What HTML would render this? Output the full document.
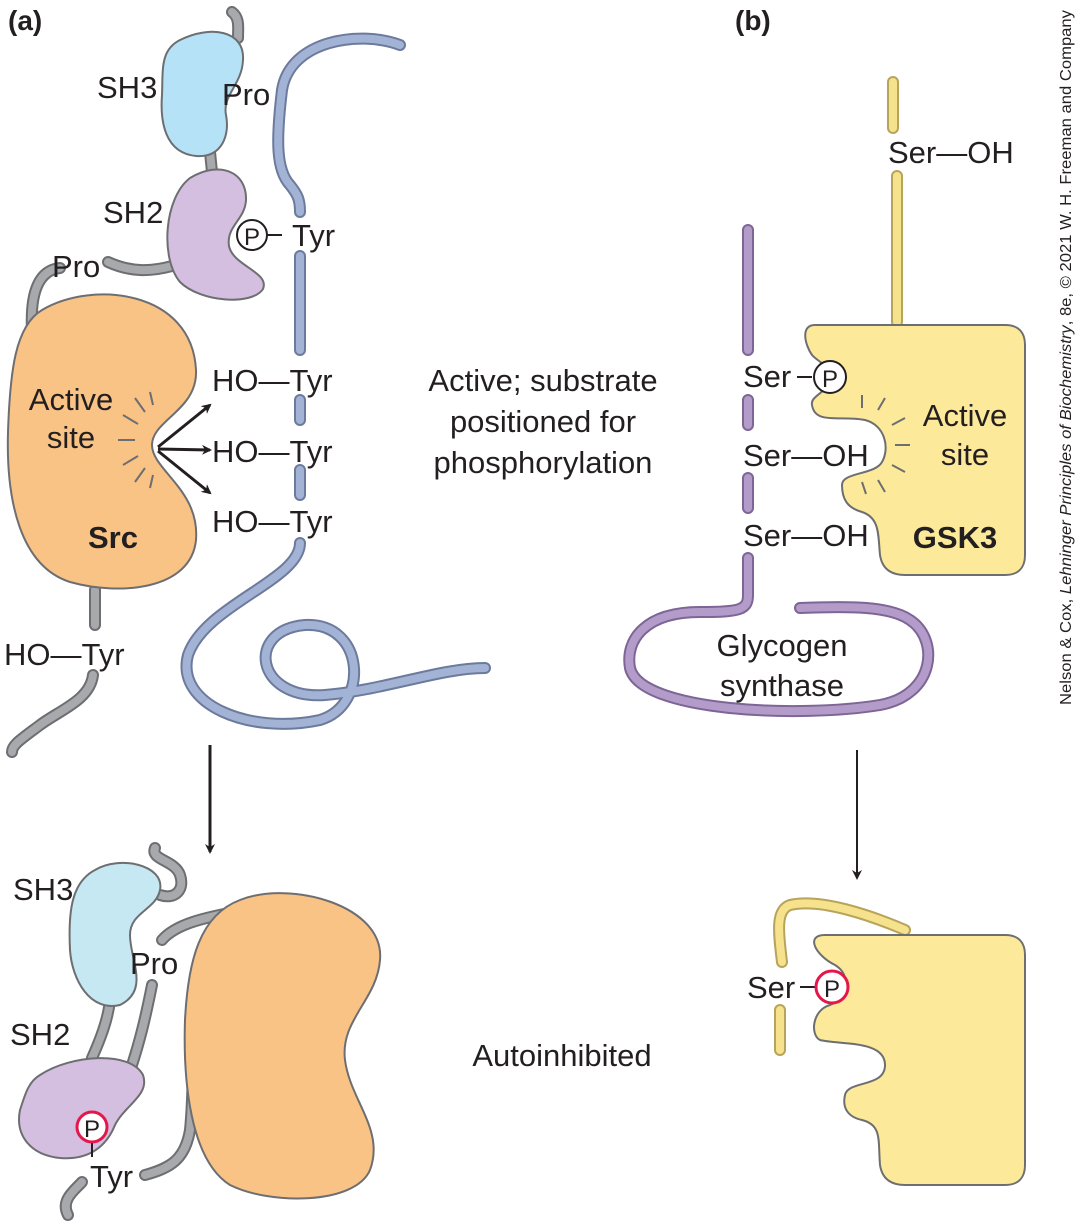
<!DOCTYPE html>
<html><head><meta charset="utf-8"><style>
html,body{margin:0;padding:0;background:#fff;}
svg{display:block;}
text{font-family:"Liberation Sans",sans-serif;fill:#231f20;}
</style></head><body>
<svg width="1077" height="1226" viewBox="0 0 1077 1226">
<defs>
<marker id="ah" markerWidth="10" markerHeight="10" refX="8" refY="5" orient="auto" markerUnits="userSpaceOnUse"><path d="M0,0 L10,5 L0,10 L3,5 Z" fill="#231f20"/></marker>
</defs>
<g fill="none" stroke-linecap="round">
<g>
<path d="M232,12 C240,18 238,28 238,38 M210,152 L212,172 M108,262 C130,272 150,272 172,266 M60,268 C40,270 30,290 32,330 M95,590 L95,625 M93,675 C90,700 60,710 40,725 C20,740 12,745 12,752" stroke="#6d6e71" stroke-width="12"/>
<path d="M232,12 C240,18 238,28 238,38 M210,152 L212,172 M108,262 C130,272 150,272 172,266 M60,268 C40,270 30,290 32,330 M95,590 L95,625 M93,675 C90,700 60,710 40,725 C20,740 12,745 12,752" stroke="#a7a9ac" stroke-width="8"/>
</g>
<g>
<path d="M400,45 C360,30 290,40 282,90 C276,140 276,170 290,185 C298,195 300,200 300,212 M300,256 L300,350 M300,400 L300,420 M300,470 L300,495 M300,543 C300,580 205,605 188,655 C175,705 250,735 320,720 C370,705 365,622 305,625 C245,630 255,700 325,695 C385,690 440,668 485,668" stroke="#6c7a9c" stroke-width="12"/>
<path d="M400,45 C360,30 290,40 282,90 C276,140 276,170 290,185 C298,195 300,200 300,212 M300,256 L300,350 M300,400 L300,420 M300,470 L300,495 M300,543 C300,580 205,605 188,655 C175,705 250,735 320,720 C370,705 365,622 305,625 C245,630 255,700 325,695 C385,690 440,668 485,668" stroke="#a3b3d6" stroke-width="8"/>
</g>
<g>
<path d="M748,230 L748,350 M748,400 L748,425 M748,478 L748,508 M748,558 L748,595 C748,610 740,612 700,612 C645,612 625,640 630,668 C640,712 800,718 880,705 C935,695 940,640 910,620 C890,606 850,606 800,608" stroke="#7d6596" stroke-width="12"/>
<path d="M748,230 L748,350 M748,400 L748,425 M748,478 L748,508 M748,558 L748,595 C748,610 740,612 700,612 C645,612 625,640 630,668 C640,712 800,718 880,705 C935,695 940,640 910,620 C890,606 850,606 800,608" stroke="#b39cc9" stroke-width="8"/>
</g>
<g>
<path d="M893,82 L893,128 M897,176 L897,322 M780,1050 L780,1010 M782,962 C778,930 776,910 790,905 C820,898 870,915 905,930" stroke="#b8a35a" stroke-width="12"/>
<path d="M893,82 L893,128 M897,176 L897,322 M780,1050 L780,1010 M782,962 C778,930 776,910 790,905 C820,898 870,915 905,930" stroke="#f6e28c" stroke-width="8"/>
</g>
<g>
<path d="M155,848 C150,860 175,860 180,875 C185,890 175,900 160,895 M110,1000 C108,1020 100,1040 92,1058 M162,940 C175,925 200,918 245,910 M152,985 C145,1020 140,1040 132,1065 M68,1215 C60,1200 75,1190 82,1182 M145,1175 C170,1168 185,1160 190,1130 C195,1080 190,1040 200,1000" stroke="#6d6e71" stroke-width="12"/>
<path d="M155,848 C150,860 175,860 180,875 C185,890 175,900 160,895 M110,1000 C108,1020 100,1040 92,1058 M162,940 C175,925 200,918 245,910 M152,985 C145,1020 140,1040 132,1065 M68,1215 C60,1200 75,1190 82,1182 M145,1175 C170,1168 185,1160 190,1130 C195,1080 190,1040 200,1000" stroke="#a7a9ac" stroke-width="8"/>
</g>
</g>
<path d="M180,40 C210,25 245,30 243,60 C242,85 222,95 226,115 C230,135 222,158 196,156 C165,153 160,122 162,95 C163,70 160,50 180,40 Z" fill="#b5e2f6" stroke="#6d6e71" stroke-width="2"/>
<path d="M190,178 C220,160 247,172 246,200 C245,220 226,226 229,246 C233,266 270,272 263,289 C252,306 200,302 180,282 C160,258 164,198 190,178 Z" fill="#d5bfe0" stroke="#6d6e71" stroke-width="2"/>
<path d="M42,310 C92,280 192,290 196,370 C198,410 152,420 152,445 C152,470 200,490 196,540 C191,590 120,596 70,582 C20,566 6,500 8,432 C10,372 15,326 42,310 Z" fill="#f9c386" stroke="#6d6e71" stroke-width="2"/>
<g stroke="#6d6e71" stroke-width="2">
<line x1="118" y1="440" x2="135" y2="440"/><line x1="123" y1="415" x2="138" y2="424"/><line x1="123" y1="465" x2="138" y2="456"/>
<line x1="135" y1="398" x2="145" y2="412"/><line x1="135" y1="482" x2="145" y2="468"/><line x1="150" y1="392" x2="153" y2="405"/><line x1="150" y1="488" x2="153" y2="475"/>
</g>
<g stroke="#231f20" stroke-width="3" marker-end="url(#ah)">
<line x1="158" y1="447" x2="210" y2="405"/><line x1="158" y1="449" x2="210" y2="450"/><line x1="158" y1="451" x2="210" y2="493"/>
</g>
<g font-size="31">
<text x="8" y="30" font-weight="bold" font-size="28">(a)</text>
<text x="97" y="98">SH3</text>
<text x="222" y="105">Pro</text>
<text x="103" y="223">SH2</text>
<circle cx="252" cy="235" r="15" fill="#fff" stroke="#231f20" stroke-width="2"/>
<text x="252" y="245" font-size="24" text-anchor="middle">P</text>
<line x1="267" y1="235" x2="282" y2="235" stroke="#231f20" stroke-width="2"/>
<text x="292" y="246">Tyr</text>
<text x="52" y="277">Pro</text>
<text x="71" y="410" text-anchor="middle">Active</text>
<text x="71" y="448" text-anchor="middle">site</text>
<text x="113" y="548" font-weight="bold" text-anchor="middle">Src</text>
<text x="212" y="391">HO—Tyr</text>
<text x="212" y="462">HO—Tyr</text>
<text x="212" y="532">HO—Tyr</text>
<text x="4" y="665">HO—Tyr</text>
<text x="543" y="391" text-anchor="middle">Active; substrate</text>
<text x="543" y="432" text-anchor="middle">positioned for</text>
<text x="543" y="473" text-anchor="middle">phosphorylation</text>
<text x="562" y="1066" text-anchor="middle">Autoinhibited</text>
</g>
<line x1="210" y1="745" x2="210" y2="852" stroke="#231f20" stroke-width="3" marker-end="url(#ah)"/>
<line x1="857" y1="750" x2="857" y2="878" stroke="#231f20" stroke-width="2" marker-end="url(#ah)"/>
<path d="M95,870 C120,855 165,865 160,890 C156,910 130,912 130,935 C130,960 150,990 120,1005 C90,1012 72,980 70,950 C68,910 72,882 95,870 Z" fill="#c6e8f2" stroke="#6d6e71" stroke-width="2"/>
<path d="M40,1075 C70,1055 130,1050 143,1075 C150,1095 125,1105 115,1125 C105,1150 85,1160 60,1158 C30,1155 15,1135 20,1110 C25,1095 28,1082 40,1075 Z" fill="#d5bfe0" stroke="#6d6e71" stroke-width="2"/>
<path d="M240,900 C290,880 385,905 380,960 C377,1000 340,1020 345,1060 C350,1100 385,1130 370,1170 C355,1205 270,1205 230,1185 C190,1160 183,1080 185,1020 C188,960 200,915 240,900 Z" fill="#f9c386" stroke="#6d6e71" stroke-width="2"/>
<g font-size="31">
<text x="13" y="900">SH3</text>
<text x="130" y="974">Pro</text>
<text x="10" y="1045">SH2</text>
<circle cx="92" cy="1127" r="15" fill="#fff" stroke="#e4174b" stroke-width="3"/>
<text x="92" y="1137" font-size="24" text-anchor="middle">P</text>
<line x1="92" y1="1143" x2="92" y2="1157" stroke="#231f20" stroke-width="2"/>
<text x="90" y="1187">Tyr</text>
</g>
<path d="M815,325 L1005,325 C1018,325 1025,332 1025,345 L1025,555 C1025,568 1018,575 1005,575 L905,575 C890,575 882,568 880,555 C878,535 880,518 862,512 C848,508 842,500 842,485 C842,472 875,475 882,462 C890,448 885,425 865,420 C840,415 815,425 812,405 C810,395 830,392 830,378 C830,365 818,362 812,355 C805,345 800,325 815,325 Z" fill="#fde99a" stroke="#6d6e71" stroke-width="2"/>
<g stroke="#6d6e71" stroke-width="2">
<line x1="895" y1="445" x2="910" y2="445"/><line x1="892" y1="425" x2="905" y2="418"/><line x1="892" y1="465" x2="905" y2="472"/>
<line x1="878" y1="410" x2="885" y2="398"/><line x1="878" y1="480" x2="885" y2="492"/><line x1="862" y1="408" x2="862" y2="395"/><line x1="862" y1="482" x2="866" y2="494"/>
</g>
<g font-size="31">
<text x="735" y="30" font-weight="bold" font-size="28">(b)</text>
<text x="888" y="163">Ser—OH</text>
<text x="743" y="387">Ser</text>
<line x1="797" y1="377" x2="812" y2="377" stroke="#231f20" stroke-width="2"/>
<circle cx="830" cy="377" r="16" fill="#fff" stroke="#231f20" stroke-width="2"/>
<text x="830" y="387" font-size="24" text-anchor="middle">P</text>
<text x="743" y="466">Ser—OH</text>
<text x="743" y="546">Ser—OH</text>
<text x="965" y="426" text-anchor="middle">Active</text>
<text x="965" y="465" text-anchor="middle">site</text>
<text x="955" y="548" font-weight="bold" text-anchor="middle">GSK3</text>
<text x="782" y="656" text-anchor="middle">Glycogen</text>
<text x="782" y="696" text-anchor="middle">synthase</text>
</g>
<path d="M825,935 L1005,935 C1018,935 1025,942 1025,955 L1025,1165 C1025,1178 1018,1185 1005,1185 L905,1185 C890,1185 882,1178 880,1165 C878,1140 882,1125 862,1120 C848,1117 842,1108 845,1095 C848,1080 885,1088 885,1065 C885,1040 840,1045 820,1040 C810,1035 812,1010 830,1005 C848,998 852,975 835,965 C815,955 805,935 825,935 Z" fill="#fde99a" stroke="#6d6e71" stroke-width="2"/>
<g font-size="31">
<text x="747" y="998">Ser</text>
<line x1="800" y1="987" x2="815" y2="987" stroke="#231f20" stroke-width="2"/>
<circle cx="832" cy="987" r="16" fill="#fff" stroke="#e4174b" stroke-width="3"/>
<text x="832" y="997" font-size="24" text-anchor="middle">P</text>
</g>
<text transform="translate(1071,705) rotate(-90)" font-size="16" textLength="695" lengthAdjust="spacingAndGlyphs">Nelson &amp; Cox, <tspan font-style="italic">Lehninger Principles of Biochemistry</tspan>, 8e, © 2021 W. H. Freeman and Company</text>
</svg>
</body></html>
